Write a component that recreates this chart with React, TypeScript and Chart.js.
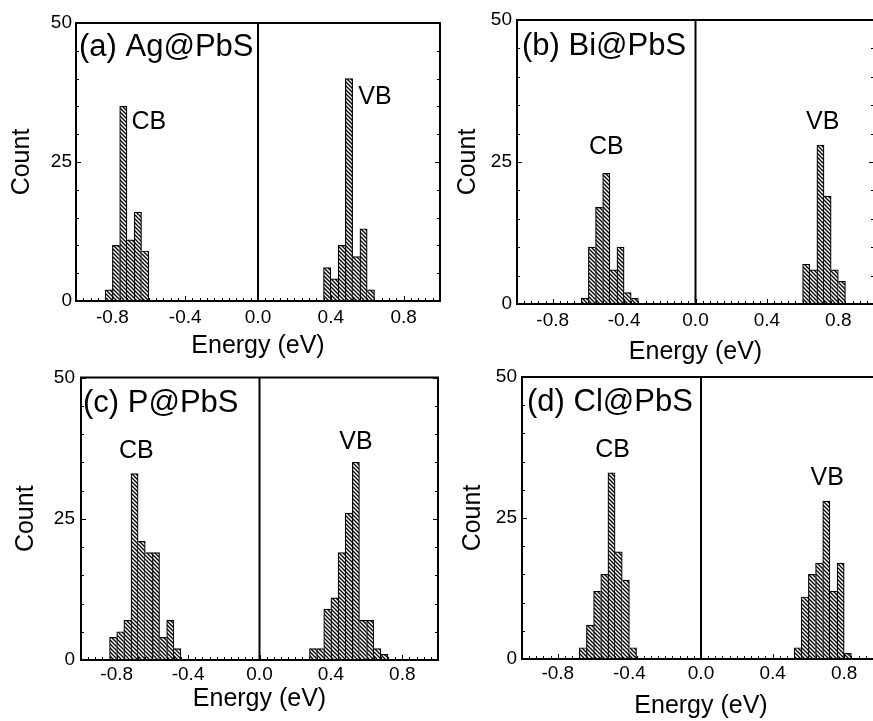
import React, { useEffect, useRef } from "react";
import { Chart, registerables } from "chart.js";

Chart.register(...registerables);

const FONT = "'Liberation Sans', Arial, Helvetica, sans-serif";

// ---- tick labels ----
const xTickValues = [-0.8, -0.4, 0, 0.4, 0.8];
const yTickValues = [0, 25, 50];

// ---- (a) Ag@PbS ----
const agCbCenters = [-0.82, -0.78, -0.74, -0.7, -0.66, -0.62];
const agCbCounts = [2, 10, 35, 11, 16, 9];
const agVbCenters = [0.38, 0.42, 0.46, 0.5, 0.54, 0.58, 0.62];
const agVbCounts = [6, 4, 10, 40, 8, 13, 2];

// ---- (b) Bi@PbS ----
const biCbCenters = [-0.62, -0.58, -0.54, -0.5, -0.46, -0.42, -0.38, -0.34];
const biCbCounts = [1, 10, 17, 23, 6, 10, 2, 1];
const biVbCenters = [0.62, 0.66, 0.7, 0.74, 0.78, 0.82];
const biVbCounts = [7, 6, 28, 19, 6, 4];

// ---- (c) P@PbS ----
const pCbCenters = [-0.82, -0.78, -0.74, -0.7, -0.66, -0.62, -0.58, -0.54, -0.5, -0.46];
const pCbCounts = [4, 5, 7, 33, 21, 19, 19, 4, 7, 2];
const pVbCenters = [0.3, 0.34, 0.38, 0.42, 0.46, 0.5, 0.54, 0.58, 0.62, 0.66, 0.7];
const pVbCounts = [2, 2, 9, 11, 19, 26, 35, 7, 7, 2, 1];

// ---- (d) Cl@PbS ----
const clCbCenters = [-0.66, -0.62, -0.58, -0.54, -0.5, -0.46, -0.42, -0.38];
const clCbCounts = [2, 6, 12, 15, 33, 19, 14, 2];
const clVbCenters = [0.54, 0.58, 0.62, 0.66, 0.7, 0.74, 0.78, 0.82];
const clVbCounts = [2, 11, 15, 17, 28, 12, 17, 1];

// ---- titles and band labels (x, y in data units) ----
const panelTitles = ["(a) Ag@PbS", "(b) Bi@PbS", "(c) P@PbS", "(d) Cl@PbS"];
const cbLabelPos = [[-0.6, 32.2], [-0.5, 27.7], [-0.69, 37], [-0.494, 37.1]];
const vbLabelPos = [[0.643, 36.7], [0.713, 32.1], [0.54, 38.5], [0.705, 32.1]];

type Spec = {
  title: string;
  cbX: number[]; cbY: number[]; vbX: number[]; vbY: number[];
  cbLabel: number[]; vbLabel: number[];
  canvas: { left: number; top: number; width: number; height: number };
  area: { L: number; T: number; R: number; B: number };
  xTickPad: number; yTickPad: number; xTitlePad: number; yTitlePad: number;
  titleDx: number; titleDy: number;
};

const specs: Spec[] = [
  {
    title: panelTitles[0], cbX: agCbCenters, cbY: agCbCounts, vbX: agVbCenters, vbY: agVbCounts,
    cbLabel: cbLabelPos[0], vbLabel: vbLabelPos[0],
    canvas: { left: 0, top: 0, width: 450, height: 365 },
    area: { L: 76, T: 23, R: 440, B: 301 },
    xTickPad: 7, yTickPad: 4, xTitlePad: 6.5, yTitlePad: 9.5, titleDx: 3, titleDy: 33,
  },
  {
    title: panelTitles[1], cbX: biCbCenters, cbY: biCbCounts, vbX: biVbCenters, vbY: biVbCounts,
    cbLabel: cbLabelPos[1], vbLabel: vbLabelPos[1],
    canvas: { left: 440, top: 0, width: 440, height: 365 },
    area: { L: 517, T: 20, R: 874, B: 304 },
    xTickPad: 7, yTickPad: 5, xTitlePad: 0.5, yTitlePad: 15.8, titleDx: 5, titleDy: 35,
  },
  {
    title: panelTitles[2], cbX: pCbCenters, cbY: pCbCounts, vbX: pVbCenters, vbY: pVbCounts,
    cbLabel: cbLabelPos[2], vbLabel: vbLabelPos[2],
    canvas: { left: 0, top: 362, width: 450, height: 359 },
    area: { L: 81, T: 376, R: 438, B: 660 },
    xTickPad: 5, yTickPad: 6, xTitlePad: 9.5, yTitlePad: 13.5, titleDx: 2, titleDy: 34,
  },
  {
    title: panelTitles[3], cbX: clCbCenters, cbY: clCbCounts, vbX: clVbCenters, vbY: clVbCounts,
    cbLabel: cbLabelPos[3], vbLabel: vbLabelPos[3],
    canvas: { left: 440, top: 362, width: 440, height: 359 },
    area: { L: 522, T: 377, R: 880, B: 659 },
    xTickPad: 5.5, yTickPad: 5, xTitlePad: 2.5, yTitlePad: 20.5, titleDx: 5, titleDy: 34,
  },
];

function makeHatch(): CanvasPattern {
  const s = 4;
  const c = document.createElement("canvas");
  c.width = s;
  c.height = s;
  const g = c.getContext("2d")!;
  g.fillStyle = "#fff";
  g.fillRect(0, 0, s, s);
  g.strokeStyle = "#000";
  g.lineWidth = 1.35;
  g.beginPath();
  g.moveTo(-1, -1);
  g.lineTo(s + 1, s + 1);
  g.moveTo(s - 1, -1);
  g.lineTo(s + 1, 1);
  g.moveTo(-1, s - 1);
  g.lineTo(1, s + 1);
  g.stroke();
  return g.createPattern(c, "repeat")!;
}

function borderFor(ctx: any) {
  const data = ctx.dataset.data as { x: number; y: number }[];
  const i = ctx.dataIndex;
  const cur = data[i] ? data[i].y : 0;
  const prev = i > 0 ? data[i - 1].y : -1;
  const next = i < data.length - 1 ? data[i + 1].y : -1;
  return {
    top: 1.2,
    bottom: 0,
    left: prev <= cur ? 1.2 : 0,
    right: next < cur ? 1.2 : 0,
  };
}

function Panel({ spec }: { spec: Spec }) {
  const ref = useRef<HTMLCanvasElement>(null);
  useEffect(() => {
    const cv = ref.current!;
    const hatch = makeHatch();
    const { canvas: cb, area } = spec;
    const yW = area.L - cb.left;
    const xH = cb.top + cb.height - area.B;
    const padTop = area.T - cb.top;
    const padRight = cb.left + cb.width - area.R;

    const decor = {
      id: "decor" + spec.title,
      afterDraw(chart: any) {
        const { ctx, chartArea } = chart;
        const { left, top, right, bottom } = chartArea;
        const xs = chart.scales.x;
        const ys = chart.scales.y;
        const line = (x1: number, y1: number, x2: number, y2: number) => {
          ctx.beginPath();
          ctx.moveTo(x1, y1);
          ctx.lineTo(x2, y2);
          ctx.stroke();
        };
        ctx.save();
        ctx.strokeStyle = "#000";
        ctx.lineWidth = 1;
        for (let i = -25; i <= 25; i++) {
          const px = Math.round(xs.getPixelForValue(i * 0.04)) + 0.5;
          const len = i % 10 === 0 ? 5 : 3;
          line(px, bottom, px, bottom - len);
        }
        for (let j = 0; j <= 10; j++) {
          const py = Math.round(ys.getPixelForValue(j * 5)) + 0.5;
          const len = j % 5 === 0 ? 5 : 3;
          line(left, py, left + len, py);
          line(right, py, right - len, py);
        }
        ctx.lineWidth = 2;
        const zx = xs.getPixelForValue(0);
        line(zx, top, zx, bottom);
        ctx.strokeRect(left, top, right - left, bottom - top);

        ctx.fillStyle = "#000";
        ctx.font = `31px ${FONT}`;
        ctx.textAlign = "left";
        ctx.textBaseline = "alphabetic";
        ctx.fillText(spec.title, left + spec.titleDx, top + spec.titleDy);

        ctx.font = `25px ${FONT}`;
        ctx.textAlign = "center";
        ctx.textBaseline = "middle";
        ctx.fillText("CB", xs.getPixelForValue(spec.cbLabel[0]), ys.getPixelForValue(spec.cbLabel[1]));
        ctx.fillText("VB", xs.getPixelForValue(spec.vbLabel[0]), ys.getPixelForValue(spec.vbLabel[1]));
        ctx.restore();
      },
    };

    const common = {
      backgroundColor: hatch,
      borderColor: "#000",
      borderWidth: borderFor,
      borderSkipped: false,
      barPercentage: 1,
      categoryPercentage: 1,
      grouped: false,
    };

    const chart = new Chart(cv, {
      type: "bar",
      data: {
        datasets: [
          { label: "CB", data: spec.cbX.map((x, i) => ({ x, y: spec.cbY[i] })), ...common } as any,
          { label: "VB", data: spec.vbX.map((x, i) => ({ x, y: spec.vbY[i] })), ...common } as any,
        ],
      },
      options: {
        responsive: false,
        animation: false,
        events: [],
        layout: { padding: { top: padTop, right: padRight, left: 0, bottom: 0 } },
        plugins: {
          legend: { display: false },
          tooltip: { enabled: false },
          title: { display: false },
        },
        scales: {
          x: {
            type: "linear",
            min: -1,
            max: 1,
            offset: false,
            grid: { display: false, drawTicks: false },
            border: { display: false },
            afterBuildTicks: (s: any) => {
              s.ticks = xTickValues.map((v) => ({ value: v }));
            },
            afterFit: (s: any) => {
              s.height = xH;
            },
            ticks: {
              padding: spec.xTickPad,
              color: "#000",
              autoSkip: false,
              maxRotation: 0,
              font: { family: FONT, size: 19, lineHeight: 1 },
              callback: (v: any) => Number(v).toFixed(1),
            },
            title: {
              display: true,
              text: "Energy (eV)",
              color: "#000",
              font: { family: FONT, size: 25, lineHeight: 1 },
              padding: { top: 0, bottom: spec.xTitlePad },
            },
          },
          y: {
            type: "linear",
            min: 0,
            max: 50,
            grid: { display: false, drawTicks: false },
            border: { display: false },
            afterBuildTicks: (s: any) => {
              s.ticks = yTickValues.map((v) => ({ value: v }));
            },
            afterFit: (s: any) => {
              s.width = yW;
            },
            ticks: {
              padding: spec.yTickPad,
              color: "#000",
              font: { family: FONT, size: 19, lineHeight: 1 },
              callback: (v: any) => String(v),
            },
            title: {
              display: true,
              text: "Count",
              color: "#000",
              font: { family: FONT, size: 25, lineHeight: 1 },
              padding: { top: spec.yTitlePad, bottom: 0 },
            },
          },
        },
      } as any,
      plugins: [decor],
    });
    return () => chart.destroy();
  }, [spec]);

  const { left, top, width, height } = spec.canvas;
  return (
    <canvas
      ref={ref}
      width={width}
      height={height}
      style={{ position: "absolute", left, top, width, height }}
    />
  );
}

export default function App() {
  return (
    <div
      style={{
        position: "absolute",
        left: 0,
        top: 0,
        width: 873,
        height: 721,
        overflow: "hidden",
        background: "#fff",
      }}
    >
      {specs.map((s) => (
        <Panel key={s.title} spec={s} />
      ))}
    </div>
  );
}
